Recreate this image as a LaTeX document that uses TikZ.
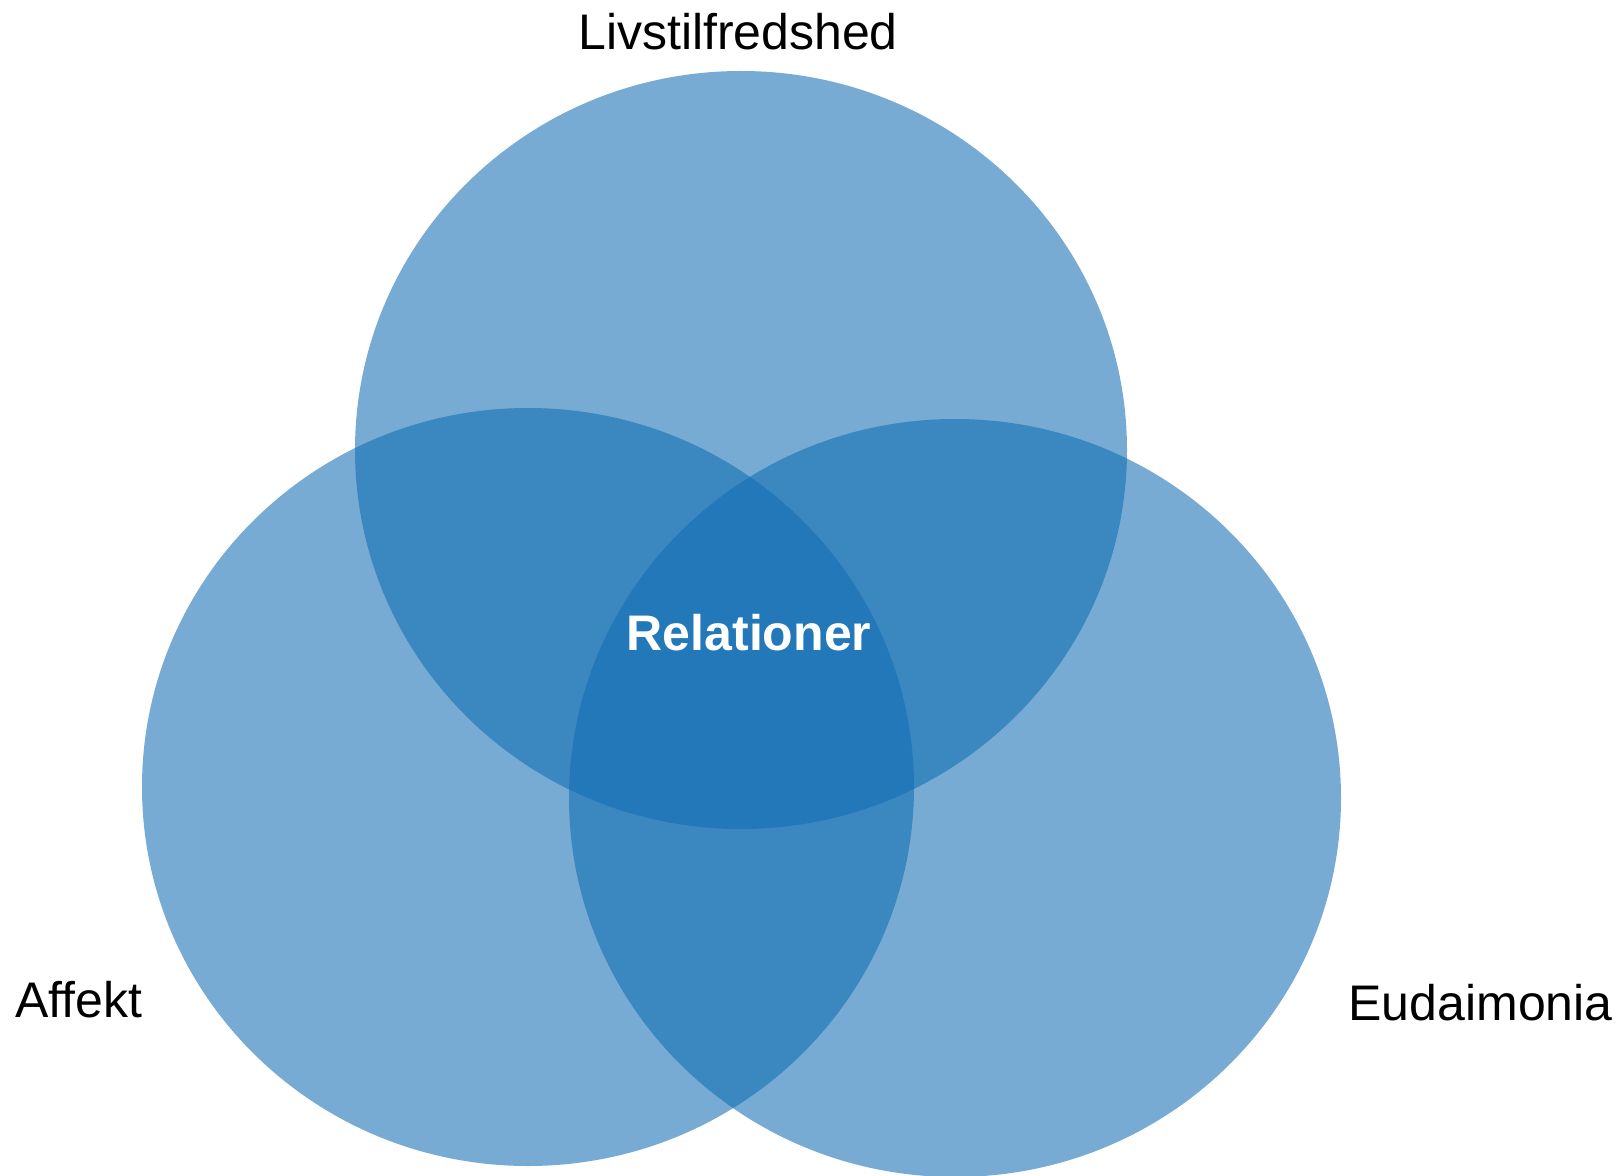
\documentclass[tikz,border=0pt]{standalone}
\usepackage{fontspec}
\setmainfont{Liberation Sans}[Ligatures=NoCommon]
\usetikzlibrary{shapes.geometric, positioning}
\definecolor{vennblue}{RGB}{15,108,178}
\tikzset{
x=0.5pt, y=-0.5pt, % one unit is one pixel of the reference
set/.style={ellipse, inner sep=0pt, minimum width=386pt, minimum height=379pt, fill=vennblue, fill opacity=0.57}, % sets the look of each circle
label text/.style={inner sep=0pt, font=\fontsize{25}{30}\selectfont}, % sets the outer labels
}

\begin{document}
\begin{tikzpicture}
    \useasboundingbox (0,0) rectangle (1622,1176);
    \node[set] (liv) at (741,450) {};
    \node[set] (aff) at (528,787) {};
    \node[set] (eud) at (955,798) {};
    \node[label text, anchor=base] (livlabel) at (738,50) {Livstilfredshed};
    \node[label text, anchor=base west] (afflabel) at (15,1017) {Affekt};
    \node[label text, anchor=base east] (eudlabel) at (1613,1020) {Eudaimonia};
    \node[label text, anchor=base, text=white, font=\fontsize{25}{30}\selectfont\bfseries] (rel) at (749,650) {Relationer};
  \end{tikzpicture}
\end{document}
